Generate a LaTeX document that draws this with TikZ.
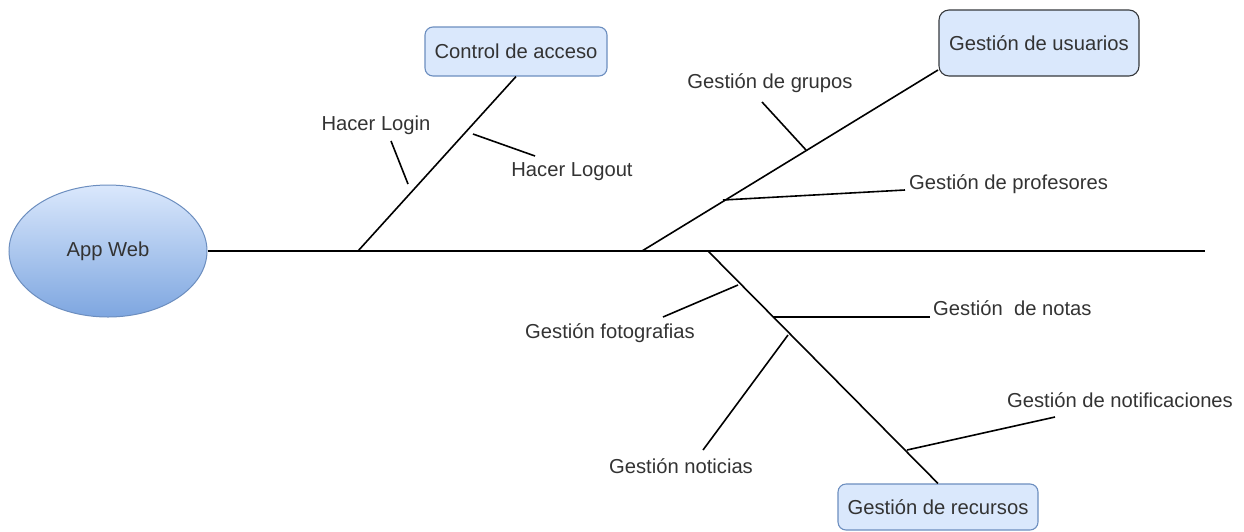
\documentclass[tikz,border=0pt]{standalone}
\usepackage{fontspec}
\setmainfont{Liberation Sans}
\usetikzlibrary{shapes.geometric}
\definecolor{fillblue}{HTML}{DAE8FC}
\definecolor{darkblue}{HTML}{7EA6E0}
\definecolor{edgeblue}{HTML}{6C8EBF}
\definecolor{txt}{HTML}{333333}
\definecolor{edgedark}{HTML}{36393D}
\tikzset{
  bone/.style={draw=black, line width=1.6pt},
  lbl/.style={inner sep=0pt, text=txt, font=\fontsize{20.2}{24}\selectfont},
  catbox/.style={draw=edgeblue, fill=fillblue, line width=1.1pt, rounded corners=8pt,
    text=txt, font=\fontsize{20.2}{24}\selectfont, inner sep=0pt},
}
\begin{document}
\begin{tikzpicture}[x=1pt, y=-1pt]
\useasboundingbox (0,0) rectangle (1244,531);

% effect node
\node[ellipse, draw=edgeblue, line width=1pt, top color=fillblue, bottom color=darkblue,
  minimum width=198pt, minimum height=132pt, inner sep=0pt, text=txt,
  font=\fontsize{20.2}{24}\selectfont] (app) at (108,251) {App Web};

% category boxes
\node[catbox, minimum width=182pt, minimum height=49pt] (acceso) at (516,51.5) {Control de acceso};
\node[catbox, draw=edgedark, rounded corners=10pt, minimum width=200pt, minimum height=66pt] (usuarios) at (1039,43) {Gestión de usuarios};
\node[catbox, minimum width=200pt, minimum height=46pt] (recursos) at (938,507) {Gestión de recursos};

% spine and main bones
\coordinate (spineEnd) at (1205,251);
\coordinate (jA) at (358,251);
\coordinate (jU) at (642,251);
\coordinate (jR) at (708,251);
\coordinate (uTop) at (938,70);
\draw[bone] (app.east) -- (spineEnd);
\draw[bone] (jA) -- (acceso.south);
\draw[bone] (jU) -- (uTop);
\draw[bone] (jR) -- (recursos.north);

% labels
\node[lbl] (login) at (376,125) {Hacer Login};
\node[lbl] (logout) at (572,172) {Hacer Logout};
\node[lbl] (grupos) at (770,83) {Gestión de grupos};
\node[lbl, anchor=west] (profes) at (909,184) {Gestión de profesores};
\node[lbl] (fotos) at (610,333) {Gestión fotografias};
\node[lbl, anchor=west] (notas) at (933,308) {Gestión\ \ de notas};
\node[lbl] (noticias) at (681,466) {Gestión noticias};
\node[lbl] (notif) at (1120,400) {Gestión de notificaciones};

% sub-cause bones
\coordinate (loginA) at (391,141);  \coordinate (loginB) at (408,184);
\coordinate (logoutA) at (473,134); \coordinate (logoutB) at (535,156);
\coordinate (gruposA) at (762,102); \coordinate (gruposB) at (806,150);
\coordinate (profA) at (723,200);   \coordinate (profB) at (905,190);
\coordinate (fotoA) at (738,285);   \coordinate (fotoB) at (663,317);
\coordinate (notasA) at (773,317);  \coordinate (notasB) at (930,317);
\coordinate (notiA) at (788,335);   \coordinate (notiB) at (703,450);
\coordinate (notifA) at (907,450);  \coordinate (notifB) at (1055,417);
\draw[bone] (loginA) -- (loginB);
\draw[bone] (logoutA) -- (logoutB);
\draw[bone] (gruposA) -- (gruposB);
\draw[bone] (profA) -- (profB);
\draw[bone] (fotoA) -- (fotoB);
\draw[bone] (notasA) -- (notasB);
\draw[bone] (notiA) -- (notiB);
\draw[bone] (notifA) -- (notifB);
\end{tikzpicture}
\end{document}
